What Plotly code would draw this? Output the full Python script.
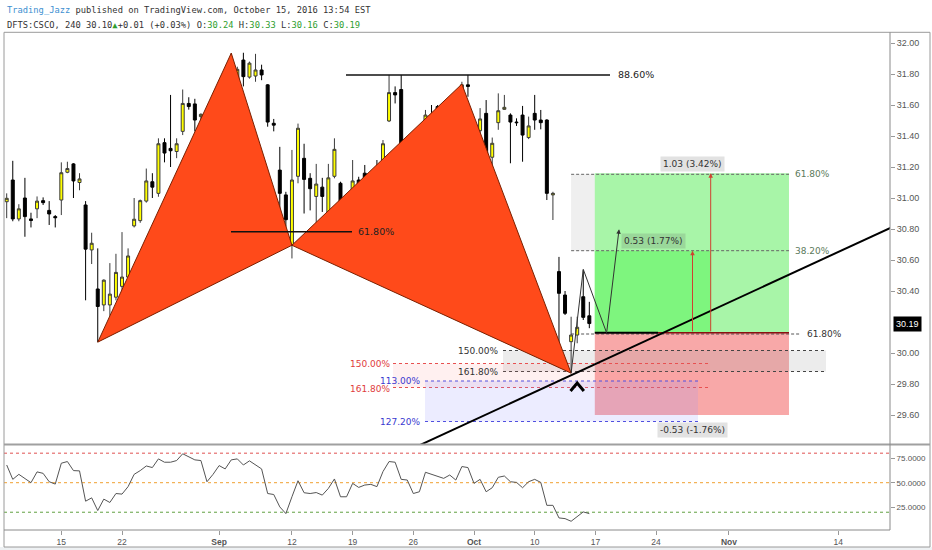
import plotly.graph_objects as go

W, H = 932, 550

# ---------------- data (4-hour bars, index 0..96) ----------------
opens = [30.976, 31.116, 30.865, 31.00, 30.865, 30.93, 30.983, 30.92, 30.88, 30.987,
         31.166, 31.22, 31.10, 30.955, 30.665, 30.413, 30.31, 30.31, 30.36, 30.43,
         30.49, 30.82, 30.854, 30.98, 31.105, 31.03, 31.357, 31.32, 31.30, 31.43,
         31.61, 31.607, 31.525, 31.52, 31.30, 31.417, 31.63, 31.686, 31.766, 31.89,
         31.78, 31.787, 31.826, 31.73, 31.482, 31.18, 31.02, 30.70, 31.14, 31.256,
         31.127, 31.01, 31.07, 30.72, 31.14, 31.095, 30.815, 30.86, 31.116, 31.16,
         31.073, 31.19, 31.008, 31.497, 31.68, 31.70, 31.353, 31.127, 31.008, 31.09,
         31.535, 31.59, 31.413, 31.497, 31.406, 31.61, 31.73, 31.327, 31.434, 31.546,
         31.263, 31.486, 31.572, 31.535, 31.49, 31.535, 31.39, 31.546, 31.503, 31.503,
         31.02, 30.525, 30.374, 30.073, 30.116, 30.363, 30.24]
highs = [31.03, 31.24, 30.96, 31.13, 30.905, 31.01, 31.004, 30.98, 30.89, 31.23,
         31.234, 31.225, 31.16, 30.98, 30.776, 30.675, 30.475, 30.58, 30.64, 30.78,
         30.675, 31.0, 30.99, 31.19, 31.16, 31.385, 31.385, 31.665, 31.385, 31.70,
         31.65, 31.64, 31.546, 31.57, 31.45, 31.63, 31.637, 31.933, 31.847, 31.937,
         31.88, 31.93, 31.86, 31.735, 31.51, 31.33, 31.04, 31.31, 31.48, 31.35,
         31.16, 31.22, 31.13, 31.22, 31.385, 31.105, 30.93, 31.245, 31.137, 31.213,
         31.17, 31.245, 31.374, 31.794, 31.72, 31.794, 31.40, 31.137, 31.095, 31.568,
         31.60, 31.60, 31.503, 31.568, 31.546, 31.75, 31.794, 31.45, 31.58, 31.632,
         31.39, 31.675, 31.665, 31.546, 31.514, 31.594, 31.525, 31.665, 31.568, 31.508,
         31.04, 30.62, 30.40, 30.234, 30.234, 30.535, 30.33]
lows = [30.87, 30.85, 30.85, 30.75, 30.81, 30.87, 30.955, 30.826, 30.81, 30.89,
        31.16, 31.00, 31.05, 30.34, 30.574, 30.07, 30.27, 30.24, 30.34, 30.385,
        30.485, 30.81, 30.84, 30.97, 31.0, 31.008, 31.23, 31.2, 31.257, 31.406,
        31.57, 31.43, 31.43, 31.27, 31.28, 31.27, 31.53, 31.665, 31.70, 31.72,
        31.77, 31.75, 31.76, 31.46, 31.43, 30.88, 30.815, 30.61, 31.095, 30.90,
        30.92, 30.815, 30.91, 30.643, 31.127, 30.72, 30.77, 30.837, 30.987, 31.04,
        31.06, 31.008, 30.976, 31.49, 31.61, 31.32, 31.32, 30.80, 30.987, 30.976,
        31.47, 31.374, 31.406, 31.27, 31.277, 31.568, 31.653, 31.2, 31.385, 31.256,
        31.148, 31.44, 31.57, 31.224, 31.465, 31.234, 31.38, 31.44, 31.443, 30.987,
        30.858, 29.944, 30.245, 29.87, 30.063, 30.213, 30.16]
closes = [30.998, 30.865, 30.93, 30.88, 30.855, 30.98, 30.97, 30.897, 30.873, 31.163,
          31.19, 31.11, 31.123, 30.67, 30.708, 30.30, 30.47, 30.38, 30.52, 30.49,
          30.626, 30.863, 30.983, 31.11, 31.07, 31.35, 31.29, 31.305, 31.35, 31.61,
          31.59, 31.503, 31.54, 31.31, 31.44, 31.62, 31.535, 31.77, 31.83, 31.783,
          31.87, 31.826, 31.794, 31.49, 31.47, 31.03, 30.86, 31.116, 31.45, 31.12,
          31.06, 31.09, 31.01, 31.13, 31.314, 30.826, 30.837, 31.11, 31.02, 31.07,
          31.09, 31.02, 31.35, 31.68, 31.665, 31.34, 31.335, 31.02, 31.077, 31.535,
          31.486, 31.413, 31.486, 31.406, 31.395, 31.73, 31.72, 31.434, 31.51, 31.267,
          31.353, 31.563, 31.585, 31.49, 31.486, 31.406, 31.465, 31.503, 31.486, 31.03,
          31.03, 30.385, 30.256, 30.116, 30.166, 30.23, 30.19]
rsi = [68, 53.4, 58.5, 54.4, 50, 61, 59.5, 51, 48.6, 69.8,
       71.5, 62.3, 62, 31.2, 34.6, 21.7, 33.3, 29.9, 39, 38.4,
       46, 58.5, 62.3, 67, 65.4, 74.2, 70.8, 70.8, 72.5, 79.4,
       76.6, 73.2, 72.5, 51, 58.5, 67.4, 64, 73.2, 74.2, 68,
       72.2, 68, 64, 39, 38, 25.4, 18.6, 35.7, 52, 39.8,
       39, 40, 37.4, 44.2, 53.8, 35.7, 35.7, 49.3, 45.2, 47.6,
       48.3, 46, 61.3, 71.5, 70.8, 53.4, 52.7, 39, 40.8, 60.6,
       58.5, 56.1, 54.4, 57.8, 52.7, 66.4, 65.4, 49.3, 53.4, 40.8,
       44.9, 55.5, 56.8, 51, 50.3, 44.9, 51, 53.4, 50.3, 27,
       27, 14.2, 13.5, 10.8, 15.2, 20.3, 18.6]
bars = list(range(len(closes)))

# x-axis ticks (bar index of each date, incl. future bars)
tick_bars = [9, 19, 35, 47, 57, 67, 77, 87, 97, 107, 119, 137]
tick_text = ["15", "22", "<b>Sep</b>", "12", "19", "26", "<b>Oct</b>", "10", "17", "24", "<b>Nov</b>", "14"]
price_ticks = [29.6, 29.8, 30.0, 30.4, 30.6, 30.8, 31.0, 31.2, 31.4, 31.6, 31.8, 32.0]
rsi_ticks = [25, 50, 75]
rsi_tick_text = ["25.0000", "50.0000", "75.0000"]
rsi_levels = [(80, "#e05050"), (50, "#f0a030"), (20, "#60a040")]

# XABCD pattern points (bar, price)
pat_x = [15, 37, 47, 75, 93]
pat_p = [30.07, 31.935, 30.695, 31.735, 29.87]

# trend line anchors
trend_bars = [68.8, 145.54]
trend_prices = [29.419, 30.806]

# projection zigzag
proj_bars = [93, 95, 98.85]
proj_prices = [29.87, 30.54, 30.13]
proj_arrow = (100.9, 30.798)

# position tool
entry, tp1, tp2, stop = 30.13, 30.66, 31.16, 29.60
pos_x0, pos_x1, pos_x_mid = 96.9, 128.9, 116.0

last_price = 30.19

# ---------------- geometry helpers ----------------
def px2bar(px):
    return (px - 6.7) / 6.069

def py2price(py):
    return 32 - (py - 43) / 155.0

xr = [px2bar(4), px2bar(890)]
yr = [py2price(444), py2price(32.3)]
rsi_r = [50 - (530 - 482.7) / 0.984, 50 + (482.7 - 445) / 0.984]

fig = go.Figure()

# orange harmonic triangles
tri1 = [0, 1, 2, 0]
tri2 = [2, 3, 4, 2]
for tri in (tri1, tri2):
    fig.add_trace(go.Scatter(
        x=[pat_x[i] for i in tri], y=[pat_p[i] for i in tri],
        mode="lines", fill="toself", fillcolor="#ff4a1a",
        line=dict(color="#7a2000", width=1), hoverinfo="skip", showlegend=False))

# candles
fig.add_trace(go.Candlestick(
    x=bars, open=opens, high=highs, low=lows, close=closes,
    increasing=dict(fillcolor="#ffff00", line=dict(color="#3a3a3a", width=1)),
    decreasing=dict(fillcolor="#000000", line=dict(color="#000000", width=1)),
    whiskerwidth=0, showlegend=False, hoverinfo="skip"))

# projection zigzag
fig.add_trace(go.Scatter(x=proj_bars, y=proj_prices, mode="lines",
                         line=dict(color="#333", width=1), hoverinfo="skip", showlegend=False))

# trend line
slope = (trend_prices[1] - trend_prices[0]) / (trend_bars[1] - trend_bars[0])
tl_x = [55, 150]
tl_y = [trend_prices[0] + slope * (v - trend_bars[0]) for v in tl_x]
fig.add_trace(go.Scatter(x=tl_x, y=tl_y, mode="lines", line=dict(color="#000", width=2),
                         hoverinfo="skip", showlegend=False))

# caret under D
fig.add_trace(go.Scatter(x=[92.9, 94, 95.1], y=[29.755, 29.806, 29.755], mode="lines",
                         line=dict(color="#000", width=3), hoverinfo="skip", showlegend=False))

# RSI
fig.add_trace(go.Scatter(x=bars, y=rsi, mode="lines", line=dict(color="#555", width=1),
                         xaxis="x", yaxis="y2", hoverinfo="skip", showlegend=False))

shapes = []
def rect(x0, x1, y0, y1, color, layer="below"):
    shapes.append(dict(type="rect", xref="x", yref="y", x0=x0, x1=x1, y0=y0, y1=y1,
                       fillcolor=color, line=dict(width=0), layer=layer))
def hline(x0, x1, y, color, width=1, dash="solid", yref="y", layer="below"):
    shapes.append(dict(type="line", xref="x", yref=yref, x0=x0, x1=x1, y0=y, y1=y,
                       line=dict(color=color, width=width, dash=dash), layer=layer))

# right fib retracement band + lines
fib_r = [py2price(174.3), py2price(250.7), py2price(334)]
rect(93, pos_x1, fib_r[1], fib_r[0], "#efefef")
# position tool boxes
rect(pos_x0, pos_x1, entry, tp2, "#a8f5a8")
rect(pos_x0, pos_x_mid, entry, tp1, "#7ef57e")
rect(pos_x0, pos_x1, stop, entry, "#f8a8a8")
hline(93, pos_x1, fib_r[0], "#666", 1, "3px,2px")
hline(93, pos_x1, fib_r[1], "#666", 1, "3px,2px")
hline(93, px2bar(800), fib_r[2], "#555", 1, "3px,2px")
hline(pos_x0, px2bar(658), entry, "#000", 2)
hline(px2bar(658), pos_x1, entry, "#8a1010", 1.5)

# D fib levels (black)
fb = [py2price(350.5), py2price(371.5)]
rect(px2bar(503), px2bar(826), fb[1], fb[0], "rgba(170,170,170,0.22)")
hline(px2bar(503), px2bar(826), fb[0], "#444", 1, "dot")
hline(px2bar(503), px2bar(826), fb[1], "#444", 1, "dot")
# red fib levels
fr = [py2price(363.5), py2price(387.5)]
rect(px2bar(393), px2bar(710), fr[1], fr[0], "rgba(255,140,140,0.13)")
hline(px2bar(393), px2bar(710), fr[0], "#e85050", 1, "dot")
hline(px2bar(393), px2bar(710), fr[1], "#e85050", 1, "dot")
# blue fib levels
fbl = [py2price(381), py2price(421.5)]
rect(px2bar(425), px2bar(698), fbl[1], fbl[0], "rgba(150,150,255,0.18)")
hline(px2bar(425), px2bar(698), fbl[0], "#5050e0", 1, "dot")
hline(px2bar(425), px2bar(698), fbl[1], "#5050e0", 1, "dot")

# pattern level lines
hline(px2bar(346), px2bar(610), 31.794, "#111", 1.5, layer="above")
hline(px2bar(231), px2bar(352), 30.783, "#111", 1.5, layer="above")

# RSI levels
for lvl, col in rsi_levels:
    hline(xr[0], xr[1], lvl, col, 1, "dot", yref="y2")

# frames (paper)
def pline(x0, y0, x1, y1, color="#9a9a9a", width=1):
    shapes.append(dict(type="line", xref="paper", yref="paper",
                       x0=x0 / W, x1=x1 / W, y0=1 - y0 / H, y1=1 - y1 / H,
                       line=dict(color=color, width=width), layer="above"))
shapes.append(dict(type="rect", xref="paper", yref="paper", x0=0, x1=1, y0=0, y1=1 - 547 / H,
                   fillcolor="#eef1f3", line=dict(width=0), layer="below"))
pline(4, 32.3, 930, 32.3)
pline(4, 32.3, 4, 547)
pline(930, 32.3, 930, 547)
pline(4, 547, 930, 547)
pline(4, 444.5, 930, 444.5, "#a0a0a0", 2)
pline(890, 32.3, 890, 530, "#8a8a8a")
pline(4, 530, 890, 530, "#8a8a8a")

ann = []
def text(x, y, s, color="#333", size=9, xanchor="left", yref="y", font="DejaVu Sans", **kw):
    d = dict(x=x, y=y, xref="x", yref=yref, text=s, showarrow=False, xanchor=xanchor,
             yanchor="middle", font=dict(family=font, size=size, color=color))
    d.update(kw)
    ann.append(d)

text(px2bar(615.5), 31.794, "88.60%", "#222", 9.5)
text(px2bar(356), 30.783, "61.80%", "#222", 9.5)
text(px2bar(500), fb[0], "150.00%", "#333", 9, "right")
text(px2bar(500), fb[1], "161.80%", "#333", 9, "right")
text(px2bar(392), fr[0], "150.00%", "#e03c3c", 9, "right")
text(px2bar(392), fr[1] - 0.01, "161.80%", "#e03c3c", 9, "right")
text(px2bar(422), fbl[0], "113.00%", "#3a3ad0", 9, "right")
text(px2bar(422), fbl[1], "127.20%", "#3a3ad0", 9, "right")
text(px2bar(792.5), fib_r[0], "61.80%", "#5c7a5c", 9)
text(px2bar(792.5), fib_r[1], "38.20%", "#5c7a5c", 9)
text(px2bar(805), fib_r[2], "61.80%", "#333", 9)
text(px2bar(692.5), py2price(163.5), "1.03 (3.42%)", "#333", 9, "center",
     bgcolor="#e2e2e2", borderpad=2)
text(px2bar(653), py2price(241), "0.53 (1.77%)", "#333", 9, "center",
     bgcolor="rgba(110,130,110,0.25)", borderpad=2)
text(px2bar(692), py2price(430), "-0.53 (-1.76%)", "#333", 9, "center",
     bgcolor="#e2e2e2", borderpad=2)

# arrows
def arrow(x, y, ax, ay, color, head=2):
    ann.append(dict(x=x, y=y, ax=ax, ay=ay, xref="x", yref="y", axref="x", ayref="y",
                    showarrow=True, arrowhead=head, arrowsize=0.9, arrowwidth=1,
                    arrowcolor=color, text=""))
arrow(113, tp1, 113, entry, "#d04030")
arrow(116, tp2, 116, entry, "#d04030")
arrow(proj_arrow[0], proj_arrow[1], proj_bars[-1], proj_prices[-1], "#333")

# last price badge
ann.append(dict(x=892.5 / W, y=last_price, xref="paper", yref="y", text="30.19",
                showarrow=False, xanchor="left", yanchor="middle", bgcolor="#000",
                borderpad=2, font=dict(family="Liberation Sans", size=9, color="#fff")))

# header
mono = "DejaVu Sans Mono"
green = "#2e9e2e"
ann.append(dict(x=4.5 / W, y=1 - 10 / H, xref="paper", yref="paper", showarrow=False,
                xanchor="left", yanchor="middle",
                text="<span style='color:#3d8fd1'>Trading_Jazz</span> published on TradingView.com, October 15, 2016 13:54 EST",
                font=dict(family=mono, size=8.75, color="#333")))
ann.append(dict(x=4.5 / W, y=1 - 24.5 / H, xref="paper", yref="paper", showarrow=False,
                xanchor="left", yanchor="middle",
                text=("DFTS:CSCO, 240 30.10<span style='color:%s'>\u25b2</span>+0.01 (+0.03%%) "
                      "O:<span style='color:%s'>30.24</span> H:<span style='color:%s'>30.33</span> "
                      "L:<span style='color:%s'>30.16</span> C:<span style='color:%s'>30.19</span>")
                     % (green, green, green, green, green),
                font=dict(family=mono, size=8.75, color="#333")))

fig.update_layout(
    width=W, height=H, autosize=False,
    margin=dict(l=0, r=0, t=0, b=0),
    paper_bgcolor="#fff", plot_bgcolor="#fff",
    showlegend=False, shapes=shapes, annotations=ann,
    xaxis=dict(domain=[4 / W, 890 / W], range=xr, anchor="y2", showgrid=False,
               zeroline=False, showline=False, rangeslider=dict(visible=False),
               tickmode="array", tickvals=tick_bars, ticktext=tick_text,
               ticks="outside", ticklen=4, tickcolor="#999",
               tickfont=dict(family="Liberation Sans", size=8.5, color="#555")),
    yaxis=dict(domain=[1 - 444 / H, 1 - 32.3 / H], range=yr, side="right", anchor="x",
               showgrid=False, zeroline=False, showline=False,
               tickmode="array", tickvals=price_ticks,
               ticktext=["%.2f" % v for v in price_ticks],
               ticks="outside", ticklen=4, tickcolor="#999",
               tickfont=dict(family="Liberation Sans", size=9, color="#555")),
    yaxis2=dict(domain=[1 - 530 / H, 1 - 445 / H], range=rsi_r, side="right", anchor="x",
                showgrid=False, zeroline=False, showline=False,
                tickmode="array", tickvals=rsi_ticks, ticktext=rsi_tick_text,
                ticks="outside", ticklen=4, tickcolor="#999",
                tickfont=dict(family="Liberation Sans", size=8, color="#555")),
)

fig.write_html("out.html", config={"displayModeBar": False},
               post_script="document.body.style.margin='0';document.body.style.overflow='hidden';")
